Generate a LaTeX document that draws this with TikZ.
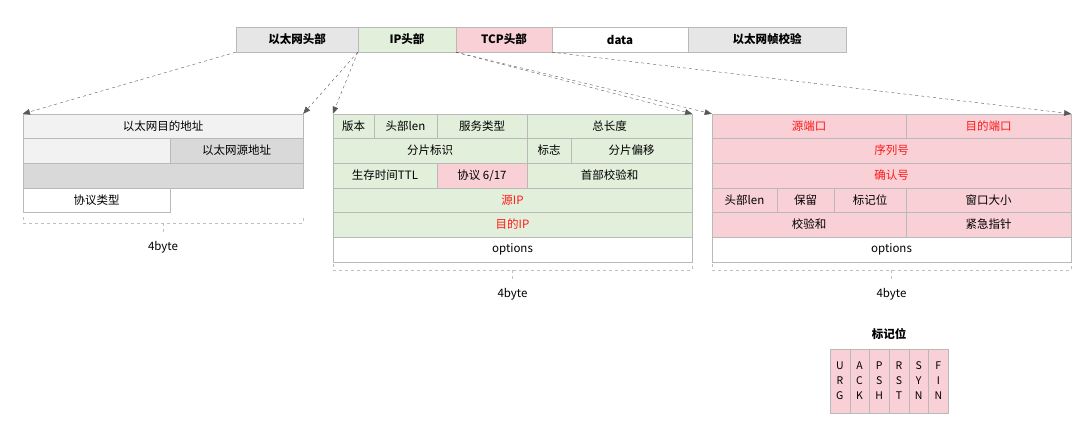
\documentclass[tikz,border=0pt]{standalone}
\usepackage{fontspec}
\setmainfont{Noto Sans CJK SC}
\usetikzlibrary{arrows.meta}
\tikzset{>={Triangle[length=2.5mm,width=2mm]}}
\definecolor{ethgray}{HTML}{E6E6E6}
\definecolor{ethlight}{HTML}{F2F2F2}
\definecolor{ethdark}{HTML}{D9D9D9}
\definecolor{ipgreen}{HTML}{E2EFDA}
\definecolor{tcppink}{HTML}{F8D0D6}
\definecolor{fieldred}{HTML}{FF1A1A}
% cell: name, x1, y1, x2, y2, style, text
\newcommand{\fieldcell}[7]{%
  \node[cell,#6,minimum width={(#4-#2)*1pt},minimum height={(#5-#3)*1pt}]
    (#1) at ({(#2+#4)/2},{(#3+#5)/2}) {#7};}
\newcommand{\widthmark}[4]{%
  \draw[dashed,gray!50] (#1,#3-6) -- (#1,#3) -- (#2,#3) -- (#2,#3-6);
  \draw[dashed,gray!50] ({(#1+#2)/2},#3) -- ({(#1+#2)/2},#3+9);
  \node[font=\fontsize{11.5}{13}\selectfont] (#4) at ({(#1+#2)/2},#3+24) {4byte};}
\begin{document}
\begin{tikzpicture}[x=1pt,y=-1pt,
  cell/.style={draw=gray!55,inner sep=0pt,font=\fontsize{11.5}{13}\selectfont},
  red/.style={text=fieldred},
  link/.style={dashed,gray!70!black,thin,->}]
\useasboundingbox (0,0) rectangle (1087,436);
% frame
\fieldcell{eth}{236}{27}{358}{52}{fill=ethgray,font=\fontsize{11.5}{13}\selectfont\bfseries}{以太网头部}
\fieldcell{ip}{358}{27}{456}{52}{fill=ipgreen,font=\fontsize{11.5}{13}\selectfont\bfseries}{IP头部}
\fieldcell{tcp}{456}{27}{552}{52}{fill=tcppink,font=\fontsize{11.5}{13}\selectfont\bfseries}{TCP头部}
\fieldcell{data}{552}{27}{688}{52}{fill=white,font=\fontsize{11.5}{13}\selectfont\bfseries}{data}
\fieldcell{fcs}{688}{27}{846}{52}{fill=ethgray,font=\fontsize{11.5}{13}\selectfont\bfseries}{以太网帧校验}
% ethernet header
\fieldcell{ethdst}{23}{114}{303}{138}{fill=ethlight}{以太网目的地址}
\fieldcell{ethpad}{23}{138}{170}{163}{fill=ethlight}{}
\fieldcell{ethsrc}{170}{138}{303}{163}{fill=ethdark}{以太网源地址}
\fieldcell{ethmid}{23}{163}{303}{188}{fill=ethdark}{}
\fieldcell{ethtype}{23}{188}{170}{212}{fill=white}{协议类型}
\widthmark{23}{303}{223}{ethw}
% ip header
\fieldcell{ipver}{333}{114}{374}{138}{fill=ipgreen}{版本}
\fieldcell{iphl}{374}{114}{437}{138}{fill=ipgreen}{头部len}
\fieldcell{iptos}{437}{114}{527}{138}{fill=ipgreen}{服务类型}
\fieldcell{iplen}{527}{114}{692}{138}{fill=ipgreen}{总长度}
\fieldcell{ipid}{333}{138}{527}{163}{fill=ipgreen}{分片标识}
\fieldcell{ipflag}{527}{138}{571}{163}{fill=ipgreen}{标志}
\fieldcell{ipoff}{571}{138}{692}{163}{fill=ipgreen}{分片偏移}
\fieldcell{ipttl}{333}{163}{437}{188}{fill=ipgreen}{生存时间TTL}
\fieldcell{ipproto}{437}{163}{527}{188}{fill=tcppink}{协议 6/17}
\fieldcell{ipsum}{527}{163}{692}{188}{fill=ipgreen}{首部校验和}
\fieldcell{ipsrc}{333}{188}{692}{212}{fill=ipgreen,red}{源IP}
\fieldcell{ipdst}{333}{212}{692}{237}{fill=ipgreen,red}{目的IP}
\fieldcell{ipopt}{333}{237}{692}{262}{fill=white}{options}
\widthmark{333}{692}{270}{ipw}
% tcp header
\fieldcell{tcpsrc}{712}{114}{906}{138}{fill=tcppink,red}{源端口}
\fieldcell{tcpdst}{906}{114}{1071}{138}{fill=tcppink,red}{目的端口}
\fieldcell{tcpseq}{712}{138}{1071}{163}{fill=tcppink,red}{序列号}
\fieldcell{tcpack}{712}{163}{1071}{188}{fill=tcppink,red}{确认号}
\fieldcell{tcphl}{712}{188}{777}{212}{fill=tcppink}{头部len}
\fieldcell{tcprsv}{777}{188}{834}{212}{fill=tcppink}{保留}
\fieldcell{tcpflag}{834}{188}{906}{212}{fill=tcppink}{标记位}
\fieldcell{tcpwin}{906}{188}{1071}{212}{fill=tcppink}{窗口大小}
\fieldcell{tcpsum}{712}{212}{906}{237}{fill=tcppink}{校验和}
\fieldcell{tcpurg}{906}{212}{1071}{237}{fill=tcppink}{紧急指针}
\fieldcell{tcpopt}{712}{237}{1071}{262}{fill=white}{options}
\widthmark{712}{1071}{270}{tcpw}
% flags
\node[font=\fontsize{11.5}{13}\selectfont\bfseries] (flagtitle) at (889,334) {标记位};
\foreach \f [count=\i] in {U\\R\\G,A\\C\\K,P\\S\\H,R\\S\\T,S\\Y\\N,F\\I\\N}
  \node[cell,fill=tcppink,align=center,minimum width=19.7pt,minimum height=64pt,
        font=\fontsize{10.5}{15}\selectfont] (flag\i) at ({830+19.7*(\i-0.5)},381) {\f};
% links
\draw[link] (eth.south west) -- (ethdst.north west);
\draw[link] (ip.south west) -- (ethdst.north east);
\draw[link] (ip.south west) -- (ipver.north west);
\draw[link] (tcp.south west) -- (iplen.north east);
\draw[link] (tcp.south west) -- (tcpsrc.north west);
\draw[link] (data.south west) -- (tcpdst.north east);
\end{tikzpicture}
\end{document}
